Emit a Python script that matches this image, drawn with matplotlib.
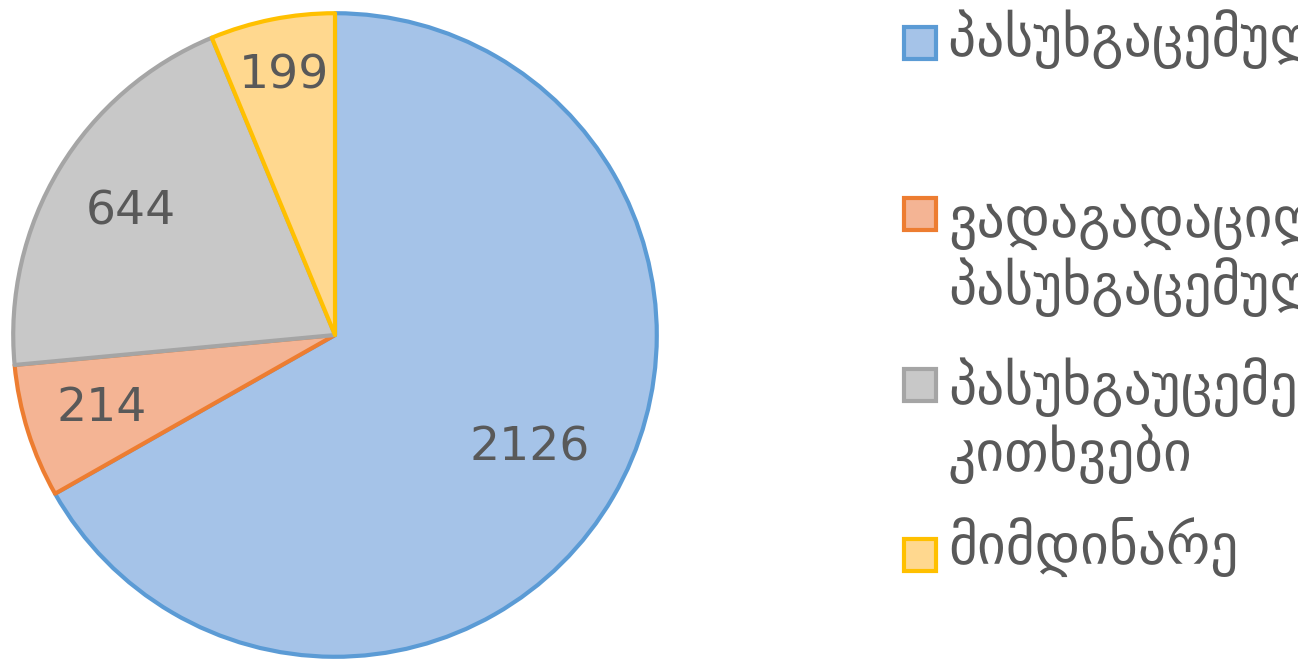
import numpy as np
import matplotlib.pyplot as plt

labels = ['პასუხგაცემული კითხვები',
          'ვადაგადაცილებით\nპასუხგაცემული',
          'პასუხგაუცემელი\nკითხვები',
          'მიმდინარე']
values = [2126, 214, 644, 199]

fills = ['#a5c3e8', '#f4b494', '#c8c8c8', '#ffd88f']
edges = ['#5b9bd5', '#ed7d31', '#a5a5a5', '#ffc000']
label_dist = [0.70, 0.76, 0.74, 0.82]

plt.rcParams['font.family'] = ['DejaVu Sans']

fig = plt.figure(figsize=(12.98, 6.61), dpi=100)
ax = fig.add_axes([10/1298, 1/661, 650/1298, 650/661])

wedges, _ = ax.pie(values, startangle=90, counterclock=False, colors=fills,
                   radius=1, wedgeprops=dict(linewidth=3))
for w, ec in zip(wedges, edges):
    w.set_edgecolor(ec)
    w.set_joinstyle('round')

for w, v, d in zip(wedges, values, label_dist):
    ang = np.deg2rad((w.theta1 + w.theta2) / 2)
    ax.text(d*np.cos(ang), d*np.sin(ang), str(v), ha='center', va='center',
            fontsize=34, color='#595959')

ax.set_xlim(-1.01, 1.01)
ax.set_ylim(-1.01, 1.01)
ax.set_aspect('equal')
ax.axis('off')

# legend drawn by hand, text runs off the right edge like the original
sq_y = [43, 214, 385, 555]
txt_top = [9, 190, 357, 517]
for sy, ty, lab, f, ec in zip(sq_y, txt_top, labels, fills, edges):
    fig.patches.append(plt.Rectangle((904/1298, 1 - (sy + 16)/661), 32/1298, 32/661,
                                     transform=fig.transFigure, facecolor=f,
                                     edgecolor=ec, linewidth=3))
    fig.text(948/1298, 1 - ty/661, lab, ha='left', va='top', fontsize=40,
             color='#595959', linespacing=1.15)

fig.savefig('out.png', dpi=100)
